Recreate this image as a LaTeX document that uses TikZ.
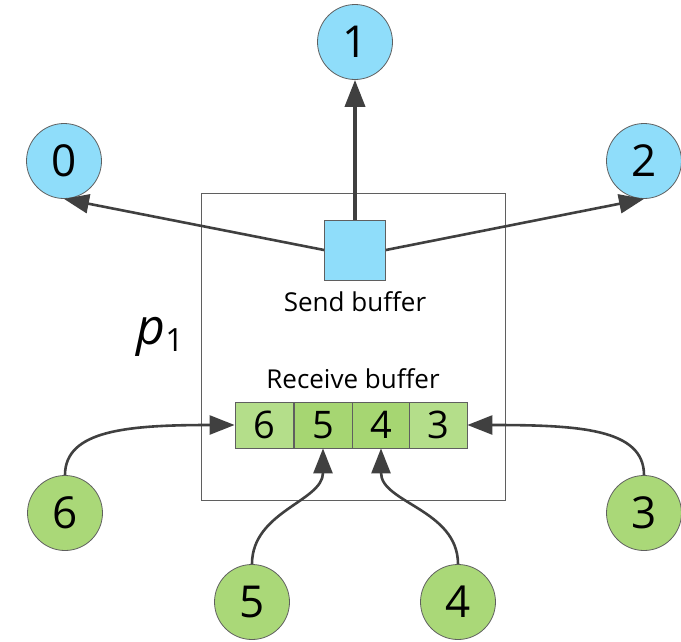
\documentclass[tikz,border=0pt]{standalone}
\usepackage{fontspec}
\setmainfont{Open Sans}
\usetikzlibrary{arrows.meta}
\definecolor{sendblue}{RGB}{143,221,250}
\definecolor{recvgreen}{RGB}{170,216,120}
\definecolor{cellgreen}{RGB}{166,214,114}
\definecolor{celllight}{RGB}{180,222,138}
\definecolor{arrowgray}{RGB}{64,64,64}
\definecolor{edgegray}{RGB}{95,95,95}
\begin{document}
\begin{tikzpicture}[x=1pt,y=1pt,
  peer/.style={circle,draw=edgegray,line width=0.8pt,minimum size=75pt,inner sep=0pt,font=\fontsize{44}{46}\selectfont},
  dest/.style={peer,fill=sendblue},
  src/.style={peer,fill=recvgreen},
  cell/.style={rectangle,draw=edgegray,line width=0.8pt,minimum width=58pt,minimum height=46pt,inner sep=0pt,font=\fontsize{38}{40}\selectfont},
  lbl/.style={font=\fontsize{26}{28}\selectfont},
  msg/.style={draw=arrowgray,line width=2.6pt,-{Triangle[length=25pt,width=19pt]}}]
\useasboundingbox (0,0) rectangle (681,-641);
\def\cy{-425};
\node[draw=edgegray,line width=0.8pt,minimum width=304pt,minimum height=307pt] (proc) at (353,-346.5) {};
\node[font=\fontsize{50}{52}\selectfont\itshape] (pname) at (160,-337) {p\raisebox{-0.25ex}{\fontsize{32}{34}\selectfont\upshape 1}};
\node[rectangle,draw=edgegray,line width=0.8pt,fill=sendblue,minimum width=61pt,minimum height=60pt] (sbuf) at (355,-250) {};
\node[lbl] (slbl) at (355,-302) {Send buffer};
\node[lbl] (rlbl) at (353,-379) {Receive buffer};
\node[cell,fill=celllight] (r6) at (264,\cy) {6};
\node[cell,fill=cellgreen] (r5) at (323,\cy) {5};
\node[cell,fill=cellgreen] (r4) at (381,\cy) {4};
\node[cell,fill=celllight] (r3) at (438,\cy) {3};
\node[dest] (n0) at (64,-161) {0};
\node[dest] (n1) at (355,-42) {1};
\node[dest] (n2) at (644,-161) {2};
\node[src] (n6) at (65,-513) {6};
\node[src] (n5) at (252,-602) {5};
\node[src] (n4) at (458,-602) {4};
\node[src] (n3) at (644,-513) {3};
\draw[msg,line width=3.8pt,-{Triangle[length=27pt,width=20pt]}] (sbuf) -- (n1);
\draw[msg] (sbuf.west) -- (n0.south);
\draw[msg] (sbuf.east) -- (n2.south);
\draw[msg] (n6.north) to[out=90,in=180,out looseness=0.65,in looseness=1.55] (r6.west);
\draw[msg] (n3.north) to[out=90,in=0,out looseness=0.65,in looseness=1.55] (r3.east);
\draw[msg] (n5.north) to[out=90,in=-90] (r5.south);
\draw[msg] (n4.north) to[out=90,in=-90] (r4.south);
\end{tikzpicture}
\end{document}
